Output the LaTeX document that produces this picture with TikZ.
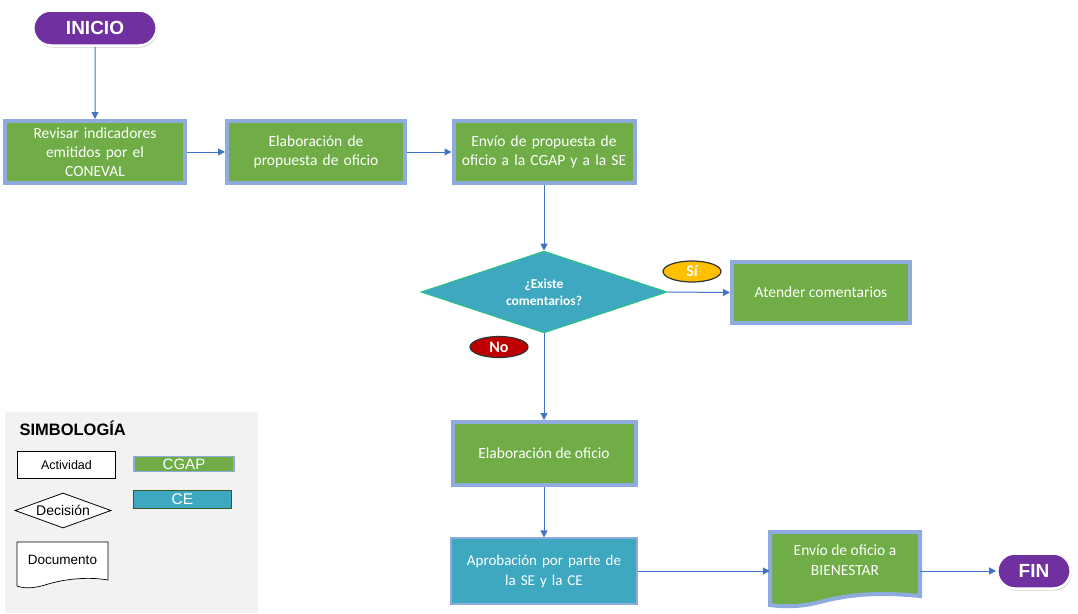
\documentclass[tikz,border=0pt]{standalone}
\usepackage{fontspec}
\setmainfont{Carlito}
\newfontfamily\arialf{Liberation Sans}
\usetikzlibrary{shapes.geometric,shapes.misc,arrows.meta,shadows}
\definecolor{boxgreen}{HTML}{70AD47}
\definecolor{boxblue}{HTML}{8FAADC}
\definecolor{teal}{HTML}{3DA8BF}
\definecolor{arrowblue}{HTML}{4472C4}
\definecolor{purp}{HTML}{7030A0}
\definecolor{legendgray}{HTML}{F2F2F2}
\definecolor{siyellow}{HTML}{FFC000}
\definecolor{nored}{HTML}{C00000}
\definecolor{ceborder}{HTML}{385723}
\tikzset{
  actbox/.style={rectangle, fill=boxgreen, draw=boxblue, line width=4pt, text=white,
    align=center, font=\fontsize{15.5}{19}\selectfont, inner sep=2pt},
  tealbox/.style={rectangle, fill=teal, draw=boxblue, line width=1.2pt, text=white,
    align=center, font=\fontsize{15}{20}\selectfont, inner sep=2pt},
  pill/.style={rounded rectangle, fill=purp, draw=white, line width=2.5pt, text=white,
    font=\arialf\bfseries\fontsize{19}{22}\selectfont,
    drop shadow={shadow xshift=1pt, shadow yshift=-2pt, opacity=0.35}},
  flow/.style={draw=arrowblue, line width=1pt, -{Triangle[length=7pt,width=7pt]}},
  tag/.style={ellipse, draw=black!80, line width=1.2pt, text=white,
    font=\bfseries\fontsize{16}{16}\selectfont, minimum width=58pt, minimum height=21pt, inner sep=0pt},
  legtext/.style={font=\arialf\fontsize{12.5}{14}\selectfont}
}
\begin{document}
\begin{tikzpicture}[x=1pt,y=-1pt]
\useasboundingbox (0,0) rectangle (1078,613);
% legend background
\fill[legendgray] (5,412) rectangle (258,613);
\node[anchor=west, font=\arialf\bfseries\fontsize{16.5}{18}\selectfont] (simb) at (16,428) {SIMBOLOGÍA};
\node[draw=black, line width=0.8pt, minimum width=98pt, minimum height=27pt, legtext, fill=white] (lact) at (66.5,465) {Actividad};
\node[draw=boxblue, fill=boxgreen, line width=1.5pt, minimum width=100pt, minimum height=15pt, inner sep=0pt, text=white, font=\arialf\fontsize{15}{15}\selectfont] (lcgap) at (184,464) {CGAP};
\node[diamond, aspect=2.7, draw=black, line width=0.8pt, fill=white, minimum width=96pt, minimum height=35pt, inner sep=0pt, font=\arialf\fontsize{14}{15}\selectfont] (ldec) at (63,510.5) {Decisión};
\node[draw=ceborder, fill=teal, line width=1.5pt, minimum width=98pt, minimum height=18pt, inner sep=0pt, text=white, font=\arialf\fontsize{15.5}{15}\selectfont] (lce) at (182.5,499.5) {CE};
\draw[black, line width=0.7pt, fill=white] (17,542) -- (108,542) -- (108,580)
  .. controls (85,576) and (60,580) .. (45,585) .. controls (32,589) and (22,588) .. (17,586) -- cycle;
\node[legtext, font=\arialf\fontsize{13.5}{15}\selectfont] (ldoc) at (62.5,560) {Documento};

% main nodes
\node[pill, minimum width=130pt, minimum height=35pt] (ini) at (95,28) {INICIO};
\node[actbox, minimum width=180pt, minimum height=62pt, text width=170pt] (b1) at (95,152) {Revisar indicadores\\emitidos por el\\CONEVAL};
\node[actbox, minimum width=178pt, minimum height=62pt, text width=170pt] (b2) at (316,152) {Elaboración de\\propuesta de oficio};
\node[actbox, minimum width=181pt, minimum height=62pt, text width=175pt] (b3) at (544,152) {Envío de propuesta de\\oficio a la CGAP y a la SE};
\node[diamond, aspect=3, fill=teal, draw=green!50!teal, line width=0.6pt, minimum width=247pt, minimum height=82pt, inner sep=0pt, text=white, align=center, font=\bfseries\fontsize{13.5}{17}\selectfont] (dec) at (544,292) {¿Existe\\comentarios?};
\node[actbox, minimum width=178pt, minimum height=61pt] (aten) at (821,292.5) {Atender comentarios};
\node[tag, fill=siyellow] (si) at (692,271.5) {Sí};
\node[tag, fill=nored] (no) at (499,347) {No};
\node[actbox, minimum width=183pt, minimum height=63pt] (elab) at (544,453.5) {Elaboración de oficio};
\node[tealbox, minimum width=186pt, minimum height=66pt, text width=180pt] (apro) at (544,571) {Aprobación por parte de\\la SE y la CE};
% document
\node[minimum width=150pt, minimum height=76pt, inner sep=0pt] (doc) at (845,571) {};
\draw[boxblue, line width=4pt, fill=boxgreen, line join=miter]
  (770,532) -- (920,532) -- (920,596)
  .. controls (880,592) and (850,594) .. (820,602)
  .. controls (800,607) and (785,607) .. (770,605) -- cycle;
\node[text=white, align=center, font=\fontsize{15.5}{20}\selectfont] (doct) at (845,560) {Envío de oficio a\\BIENESTAR};
\node[pill, minimum width=80pt, minimum height=35pt] (fin) at (1034,571) {FIN};

% connectors
\draw[flow] (ini) -- (b1);
\draw[flow] (b1) -- (b2);
\draw[flow] (b2) -- (b3);
\draw[flow] (b3) -- (dec);
\draw[flow] (dec.east) -- (aten.west);
\draw[flow] (dec) -- (elab);
\draw[flow] (elab) -- (apro);
\draw[flow] (apro.east) -- (doc.west);
\draw[flow] (doc.east) -- (fin.west);
\end{tikzpicture}
\end{document}
